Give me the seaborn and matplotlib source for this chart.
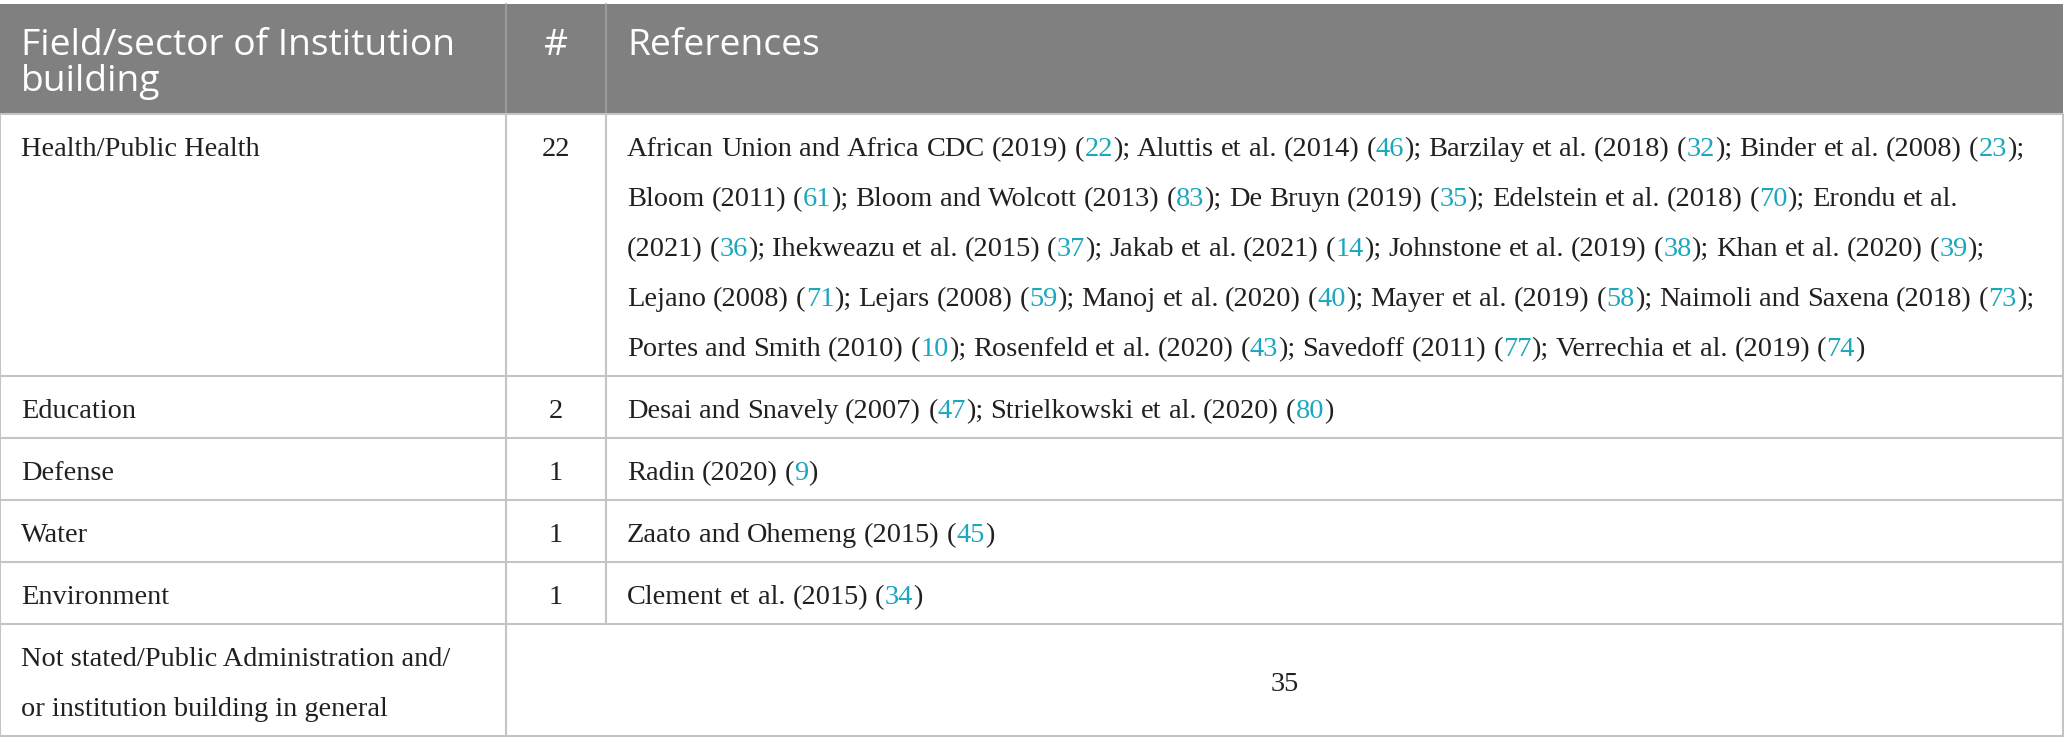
import matplotlib
matplotlib.use("Agg")
import matplotlib.pyplot as plt
import seaborn as sns

# table content
header = ["Field/sector of Institution\nbuilding", "#", "References"]
fields = ["Health/Public Health", "Education", "Defense", "Water", "Environment",
          "Not stated/Public Administration and/\nor institution building in general"]
counts = ["22", "2", "1", "1", "1", "35"]

refs_health = [
    ("African Union and Africa CDC (2019)", "22"), ("Aluttis et al. (2014)", "46"),
    ("Barzilay et al. (2018)", "32"), ("Binder et al. (2008)", "23"),
    ("Bloom (2011)", "61"), ("Bloom and Wolcott (2013)", "83"),
    ("De Bruyn (2019)", "35"), ("Edelstein et al. (2018)", "70"),
    ("Erondu et al. (2021)", "36"), ("Ihekweazu et al. (2015)", "37"),
    ("Jakab et al. (2021)", "14"), ("Johnstone et al. (2019)", "38"),
    ("Khan et al. (2020)", "39"), ("Lejano (2008)", "71"),
    ("Lejars (2008)", "59"), ("Manoj et al. (2020)", "40"),
    ("Mayer et al. (2019)", "58"), ("Naimoli and Saxena (2018)", "73"),
    ("Portes and Smith (2010)", "10"), ("Rosenfeld et al. (2020)", "43"),
    ("Savedoff (2011)", "77"), ("Verrechia et al. (2019)", "74"),
]
refs_education = [("Desai and Snavely (2007)", "47"), ("Strielkowski et al. (2020)", "80")]
refs_defense = [("Radin (2020)", "9")]
refs_water = [("Zaato and Ohemeng (2015)", "45")]
refs_environment = [("Clement et al. (2015)", "34")]
references = [refs_health, refs_education, refs_defense, refs_water, refs_environment, []]

HEAD_BG = "#808080"
GRID = "#c4c4c4"
INK = "#231f20"
LINK = "#1ba7bd"

sns.set_theme(style="white")
plt.rcParams["font.family"] = ["Liberation Serif", "DejaVu Serif"]
SANS = ["Open Sans", "DejaVu Sans"]

W, H = 2064, 751
fig = plt.figure(figsize=(W / 100, H / 100), dpi=100)
ax = fig.add_axes([0, 0, 1, 1])
ax.set_xlim(0, W)
ax.set_ylim(H, 0)
ax.axis("off")
renderer = fig.canvas.get_renderer()

body_fs = 20.4
head_fs = 26.8
line_h = 50
right = 2063


def text_width(s, **kw):
    t = ax.text(0, 0, s, fontsize=body_fs, **kw)
    w = t.get_window_extent(renderer).width
    t.remove()
    return w


space_w = text_width("a a") - text_width("aa")


def ref_words(refs):
    words = []
    for i, (auth, num) in enumerate(refs):
        for w in auth.split(" "):
            words.append([(w, INK)])
        words.append([("(", INK), (num, LINK), (");" if i < len(refs) - 1 else ")", INK)])
    return words


def layout(words, x0, xmax):
    lines, cur, x = [], [], x0
    for w in words:
        ww = sum(text_width(p) for p, _ in w)
        if cur and x + ww > xmax:
            lines.append(cur)
            cur, x = [], x0
        cur.append((x, w))
        x += ww + space_w
    if cur:
        lines.append(cur)
    return lines


# header band
top = 4
head_bottom = 114
ax.add_patch(plt.Rectangle((0, top), right, head_bottom - top, color=HEAD_BG, lw=0))
for cx in (506, 606):
    ax.plot([cx, cx], [top, head_bottom], color="#9c9c9c", lw=1.4)
for k, hl in enumerate(header[0].split("\n")):
    ax.text(21, 55 + k * 36, hl, family=SANS, fontsize=head_fs, color="white",
            va="baseline")
ax.text(556, 55, header[1], family=SANS, fontsize=head_fs, color="white",
        va="baseline", ha="center")
ax.text(627, 55, header[2], family=SANS, fontsize=head_fs, color="white",
        va="baseline")

# body rows
y = head_bottom
ax.plot([0, right], [y, y], color=GRID, lw=1.5)
for field, cnt, refs in zip(fields, counts, references):
    n_field = field.count("\n") + 1
    lines = layout(ref_words(refs), 627, 2038) if refs else []
    n = max(len(lines), n_field)
    row_h = n * line_h + 12
    base = y + 42
    for k, fl in enumerate(field.split("\n")):
        ax.text(21, base + k * line_h, fl, fontsize=body_fs, color=INK, va="baseline")
    if refs:
        ax.text(556, base, cnt, fontsize=body_fs, color=INK, va="baseline", ha="center")
        for k, ln in enumerate(lines):
            for x, w in ln:
                for piece, col in w:
                    ax.text(x, base + k * line_h, piece, fontsize=body_fs, color=col,
                            va="baseline")
                    x += text_width(piece)
        ax.plot([606, 606], [y, y + row_h], color=GRID, lw=1.5)
    else:
        ax.text((506 + right) / 2, y + row_h / 2 + 11, cnt, fontsize=body_fs,
                color=INK, va="baseline", ha="center")
    for cx in (0, 506, right):
        ax.plot([cx, cx], [y, y + row_h], color=GRID, lw=1.5)
    y += row_h
    ax.plot([0, right], [y, y], color=GRID, lw=1.5)

fig.savefig("out.png", dpi=100, facecolor="white")
